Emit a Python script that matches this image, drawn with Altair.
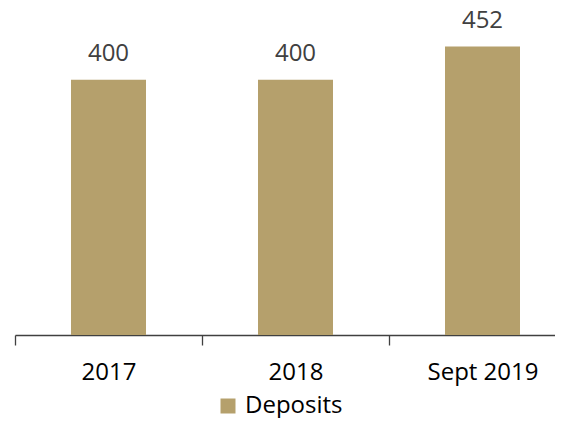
import json
import altair as alt
import pandas as pd

categories = ["2017", "2018", "Sept 2019"]
deposits = [400, 400, 452]
series_name = "Deposits"

idx = list(range(len(categories)))
df = pd.DataFrame({"idx": idx, "period": categories, "value": deposits,
                   "series": [series_name] * len(categories)})

FONT = "Open Sans"
COLOR = "#b5a06c"
AXC = "#404040"
PLOT_W = 540
STEP = 187

xscale = alt.Scale(domain=[-0.5, -0.5 + PLOT_W / STEP], nice=False, zero=False, padding=0)
label_expr = json.dumps(categories) + "[round(datum.value)]"

x_labels = alt.X("idx:Q", scale=xscale,
                 axis=alt.Axis(title=None, values=idx, labelExpr=label_expr, labelAngle=0,
                               labelFontSize=24, labelFont=FONT, labelColor="#000000",
                               ticks=False, tickSize=0, labelPadding=25,
                               domainColor=AXC, domainWidth=1.3, grid=False,
                               labelBound=False, labelOverlap=False, labelFlush=False,
                               orient="bottom"))
x_ticks = alt.X("idx:Q", scale=xscale,
                axis=alt.Axis(title=None, values=[i - 0.5 for i in idx], labels=False,
                              domain=False, ticks=True, tickColor=AXC, tickWidth=1.3,
                              tickSize=10, grid=False, orient="bottom"))
y = alt.Y("value:Q", scale=alt.Scale(domain=[0, 500], padding=0), axis=None)

bars = alt.Chart(df).mark_bar(color=COLOR, size=75).encode(
    x=x_labels, y=y,
    color=alt.Color("series:N", scale=alt.Scale(range=[COLOR]),
                    legend=alt.Legend(title=None, orient="none", legendX=201, legendY=378,
                                      symbolType="square", symbolSize=225,
                                      symbolStrokeWidth=0,
                                      labelFontSize=24, labelFont=FONT, labelColor="#000000",
                                      labelOffset=5)),
)

labels = alt.Chart(df).mark_text(fontSize=24, font=FONT, color="#404040",
                                 baseline="alphabetic", dy=-19).encode(
    x=x_ticks, y=y, text=alt.Text("value:Q"))

chart = alt.layer(bars, labels).resolve_scale(x="shared").resolve_axis(x="independent").properties(
    width=PLOT_W, height=319,
    autosize=alt.AutoSizeParams(type="none"),
    padding={"left": 7, "top": 8, "right": 0, "bottom": 83},
).configure_view(stroke=None)

chart.save("out.html", embed_options={"renderer": "svg", "actions": False})
